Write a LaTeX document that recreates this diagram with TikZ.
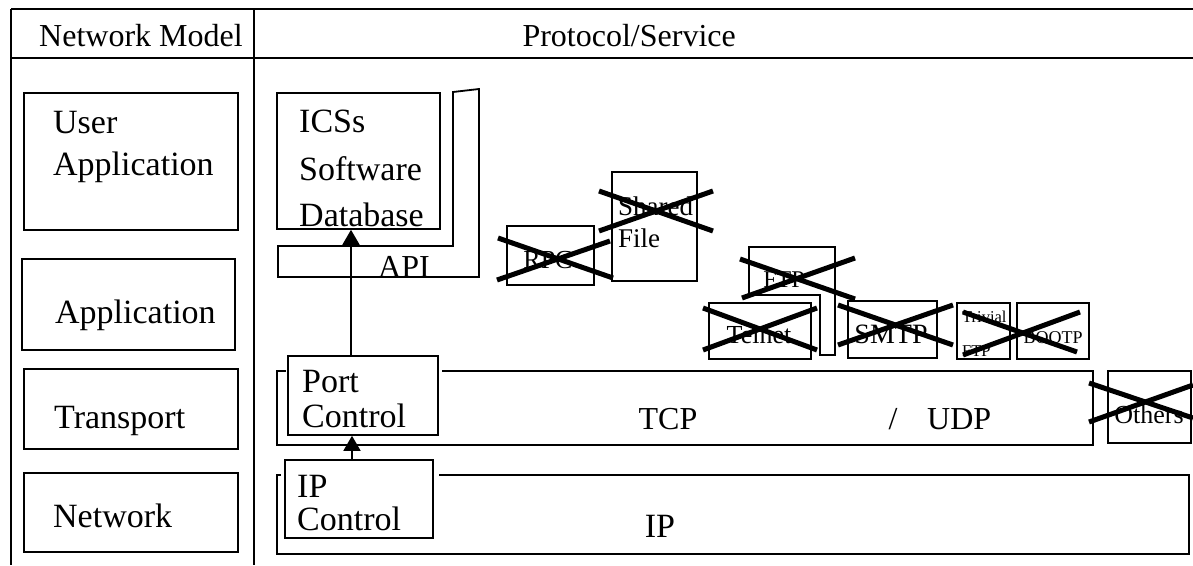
\documentclass[tikz,border=0pt]{standalone}
\usepackage{fontspec}
\setmainfont{Liberation Serif}
\usetikzlibrary{arrows.meta}
\newcommand\fsHead{\fontsize{32}{38}\selectfont}
\newcommand\fsBig{\fontsize{34}{40}\selectfont}
\newcommand\fsMid{\fontsize{26}{30}\selectfont}
\newcommand\fsSmall{\fontsize{18}{21}\selectfont}
\newcommand\fsTiny{\fontsize{16.5}{19}\selectfont}
\begin{document}
\begin{tikzpicture}[x=1pt,y=-1pt,
  frame/.style={line width=2pt},
  boxline/.style={draw, line width=1.8pt, fill=white, inner sep=0pt, anchor=north west},
  xline/.style={line width=5pt},
  txt/.style={inner sep=0pt, anchor=base west},
  ctxt/.style={inner sep=0pt, anchor=base},
  arr/.style={line width=1.6pt, -{Triangle[length=15pt,width=17pt]}}]
\useasboundingbox (0,0) rectangle (1193,565);
% table frame
\draw[frame] (11,9) -- (1193,9);
\draw[frame] (11,58) -- (1193,58);
\draw[frame] (11,9) -- (11,565);
\draw[frame] (254,9) -- (254,565);
\node[txt, font=\fsHead] (hnm) at (39,46) {Network Model};
\node[txt, anchor=base east, font=\fsHead] (hps) at (736,46) {Protocol/Service};
% left column
\node[boxline, minimum width=214, minimum height=137] (ua) at (23,92) {};
\node[txt, font=\fsBig] (tua1) at (53,133) {User};
\node[txt, font=\fsBig] (tua2) at (53,175) {Application};
\node[boxline, minimum width=213, minimum height=91] (app) at (21,258) {};
\node[txt, font=\fsBig] (tapp) at (55,323) {Application};
\node[boxline, minimum width=214, minimum height=80] (tr) at (23,368) {};
\node[txt, font=\fsBig] (ttr) at (54,428) {Transport};
\node[boxline, minimum width=214, minimum height=79] (nw) at (23,472) {};
\node[txt, font=\fsBig] (tnw) at (53,527) {Network};
% user application area
\node[boxline, minimum width=163, minimum height=136] (ics) at (276,92) {};
\node[txt, font=\fsBig] (tics1) at (299,132) {ICSs};
\node[txt, font=\fsBig] (tics2) at (299,180) {Software};
\node[txt, font=\fsBig] (tics3) at (299,226) {Database};
\draw[line width=1.8pt] (278,246) -- (453,246) -- (453,92) -- (479,89) -- (479,277) -- (278,277) -- cycle;
\node[txt, font=\fsHead] (tapi) at (378,277) {API};
% application protocols
\node[boxline, minimum width=87, minimum height=59] (rpc) at (506,225) {};
\node[ctxt, font=\fsMid] (trpc) at (548,268) {RPC};
\node[boxline, minimum width=85, minimum height=109] (sf) at (611,171) {};
\node[txt, font=\fontsize{27}{31}\selectfont] (tsf1) at (618,215) {Shared};
\node[txt, font=\fontsize{27}{31}\selectfont] (tsf2) at (618,247) {File};
\draw[line width=1.8pt, fill=white] (749,247) -- (835,247) -- (835,355) -- (820,355) -- (820,295) -- (749,295) -- cycle;
\node[ctxt, font=\fontsize{24}{28}\selectfont] (tftp) at (784,287) {FTP};
\node[boxline, minimum width=102, minimum height=56] (tel) at (708,302) {};
\node[ctxt, font=\fsMid] (ttel) at (759,343) {Telnet};
\node[boxline, minimum width=89, minimum height=57] (smtp) at (847,300) {};
\node[ctxt, font=\fontsize{28}{32}\selectfont] (tsmtp) at (891,343) {SMTP};
\node[boxline, minimum width=53, minimum height=56] (tf) at (956,302) {};
\node[txt, font=\fsTiny] (ttf1) at (962,322) {Trivial};
\node[txt, font=\fsTiny] (ttf2) at (962,356) {FTP};
\node[boxline, minimum width=72, minimum height=56] (boot) at (1016,302) {};
\node[ctxt, font=\fsSmall] (tboot) at (1053,343) {BOOTP};
% transport
\node[boxline, minimum width=816, minimum height=74] (tcp) at (276,370) {};
\node[ctxt, font=\fsHead] (ttcp) at (668,429) {TCP};
\node[ctxt, font=\fsHead] (tsl) at (893,429) {/};
\node[txt, font=\fsHead] (tudp) at (927,429) {UDP};
\node[boxline, minimum width=83, minimum height=72] (oth) at (1107,370) {};
\node[ctxt, font=\fsMid] (toth) at (1149,423) {Others};
% network
\node[boxline, minimum width=912, minimum height=79] (ipb) at (276,474) {};
\node[ctxt, font=\fsBig] (tip) at (660,537) {IP};
% control boxes with white margins
\fill[white] (286,351) rectangle (442,439);
\fill[white] (281,455) rectangle (439,545);
\node[boxline, minimum width=150, minimum height=79] (pc) at (287,355) {};
\node[txt, font=\fsBig] (tpc1) at (302,392) {Port};
\node[txt, font=\fsBig] (tpc2) at (302,427) {Control};
\node[boxline, minimum width=148, minimum height=78] (ipc) at (284,459) {};
\node[txt, font=\fsBig] (tipc1) at (297,497) {IP};
\node[txt, font=\fsBig] (tipc2) at (297,530) {Control};
% arrows
\coordinate (ax1) at (351,0);
\coordinate (ax2) at (352,0);
\draw[arr] (pc.north -| ax1) -- (ics.south -| ax1);
\draw[arr] (ipc.north -| ax2) -- (pc.south -| ax2);
% strike-through crosses
\draw[xline] (498,238) -- (613,278);
\draw[xline] (497,280) -- (610,241);
\draw[xline] (599,191) -- (713,231);
\draw[xline] (599,231) -- (713,191);
\draw[xline] (740,259) -- (855,299);
\draw[xline] (742,298) -- (855,258);
\draw[xline] (703,308) -- (817,350);
\draw[xline] (703,350) -- (817,308);
\draw[xline] (838,305) -- (953,345);
\draw[xline] (838,345) -- (953,305);
\draw[xline] (963,312) -- (1077,352);
\draw[xline] (963,355) -- (1080,312);
\draw[xline] (1089,383) -- (1193,418);
\draw[xline] (1089,422) -- (1193,385);
\end{tikzpicture}
\end{document}
